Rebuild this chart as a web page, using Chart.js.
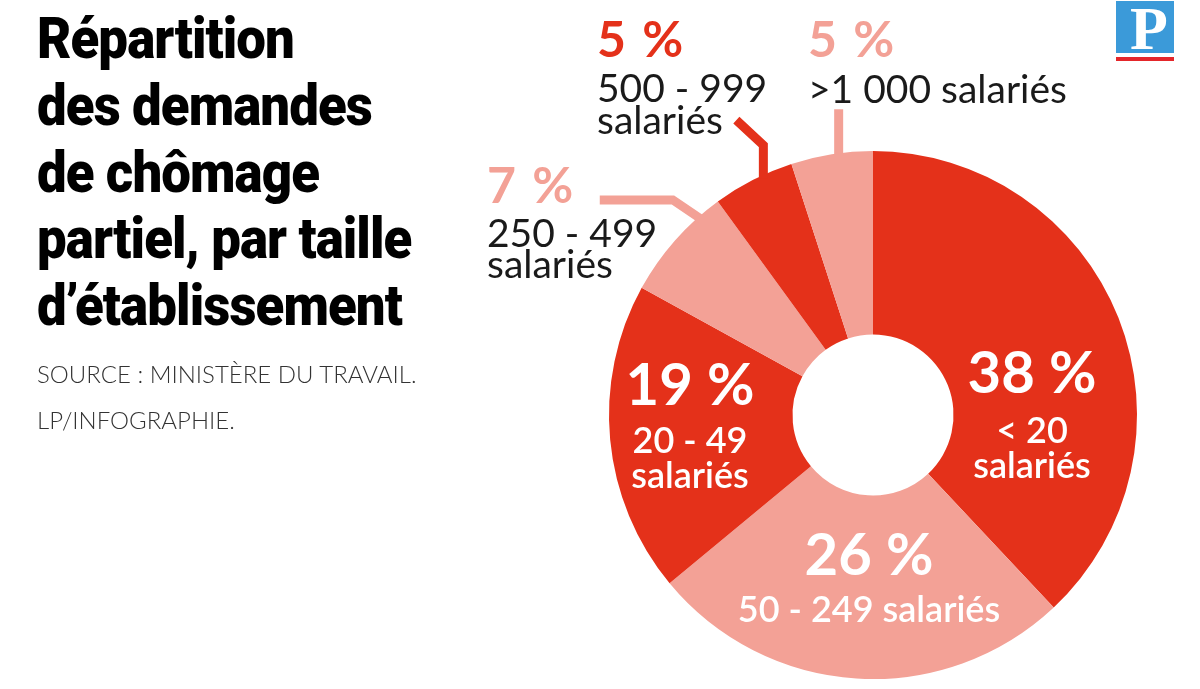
<!DOCTYPE html>
<html lang="fr">
<head>
<meta charset="utf-8">
<script src="https://cdn.jsdelivr.net/npm/chart.js@4"></script>
<style>
html, body { margin: 0; padding: 0; background: #fff; }
#wrap { position: relative; width: 1200px; height: 689px; overflow: hidden; }
#chart { position: absolute; left: 0; top: 0; }
#title {
  position: absolute; left: 37px; top: 5px;
  font-family: Roboto, sans-serif; font-weight: 900; font-size: 58px;
  line-height: 66.75px; color: #000; white-space: nowrap;
  transform: scaleX(0.91); transform-origin: 0 0; letter-spacing: -1px;
}
.src { position: absolute; left: 37px; font-family: Lato, sans-serif; font-weight: 300; font-size: 24px; color: #333; white-space: nowrap; }
#logo { position: absolute; left: 1116px; top: 1px; width: 58px; height: 52px; background: #3b9ad9; overflow: hidden; }
#logo span { position: absolute; left: 14px; top: -8px; font-family: "Liberation Serif", serif; font-weight: bold; font-size: 62px; color: #fff; }
#logobar { position: absolute; left: 1116px; top: 57px; width: 58px; height: 4px; background: #e4262a; }
</style>
</head>
<body>
<div id="wrap">
  <canvas id="chart" width="1200" height="689"></canvas>
  <div id="title">Répartition<br>des demandes<br>de chômage<br>partiel, par taille<br>d’établissement</div>
  <div class="src" style="top:359px">SOURCE : MINISTÈRE DU TRAVAIL.</div>
  <div class="src" style="top:405px">LP/INFOGRAPHIE.</div>
  <div id="logo"><span>P</span></div>
  <div id="logobar"></div>
</div>
<script>
// slices, clockwise from 12 o'clock
const categories = ['< 20 salariés', '50 - 249 salariés', '20 - 49 salariés', '250 - 499 salariés', '500 - 999 salariés', '>1 000 salariés'];
const shares = [38, 26, 19, 7, 5, 5];
const labelLines = [['< 20', 'salariés'], ['50 - 249 salariés'], ['20 - 49', 'salariés'], ['250 - 499', 'salariés'], ['500 - 999', 'salariés'], ['>1 000 salariés']];

const RED = '#e4311a';
const PINK = '#f3a196';
const sliceColors = [RED, PINK, RED, PINK, RED, PINK];

// where each label sits (baselines)
const labelPos = [
  { x: 1032, y: 393, align: 'center', inside: true, lines: [443, 478] },
  { x: 869, y: 575, align: 'center', inside: true, lines: [622] },
  { x: 690, y: 405, align: 'center', inside: true, lines: [453, 488] },
  { x: 487, y: 203, align: 'left', inside: false, lines: [247, 278] },
  { x: 597, y: 57, align: 'left', inside: false, lines: [102, 134] },
  { x: 808, y: 57, align: 'left', inside: false, lines: [103] }
];

// leader lines: end on the slice edge, other points relative to that end
const leaders = [
  { index: 3, at: 0.79, pts: [[-101, -19], [-28, -19]] },
  { index: 4, at: 0.62, pts: [[-27, -58], [0, -33]] },
  { index: 5, at: 0.58, pts: [[0, -47]] }
];

const labelPlugin = {
  id: 'sliceLabels',
  afterDatasetsDraw(chart) {
    const ctx = chart.ctx;
    const meta = chart.getDatasetMeta(0);
    ctx.save();
    leaders.forEach(l => {
      const arc = meta.data[l.index];
      const a = arc.startAngle + (arc.endAngle - arc.startAngle) * l.at;
      const r = arc.outerRadius - 3;
      const ex = arc.x + Math.cos(a) * r;
      const ey = arc.y + Math.sin(a) * r;
      ctx.strokeStyle = sliceColors[l.index];
      ctx.lineWidth = 9;
      ctx.lineJoin = 'miter';
      ctx.beginPath();
      l.pts.forEach((p, k) => {
        if (k === 0) ctx.moveTo(ex + p[0], ey + p[1]);
        else ctx.lineTo(ex + p[0], ey + p[1]);
      });
      ctx.lineTo(ex, ey);
      ctx.stroke();
    });

    shares.forEach((v, i) => {
      const p = labelPos[i];
      ctx.textAlign = p.align;
      ctx.textBaseline = 'alphabetic';
      if (p.inside) {
        ctx.fillStyle = '#fff';
        ctx.font = 'bold 58px Lato';
        ctx.letterSpacing = '0px';
      } else {
        ctx.fillStyle = sliceColors[i];
        ctx.font = 'bold 50px Lato';
        ctx.letterSpacing = '2px';
      }
      ctx.fillText(v + ' %', p.x, p.y);
      ctx.letterSpacing = '0px';
      ctx.fillStyle = p.inside ? '#fff' : '#1a1a1a';
      ctx.font = p.inside ? '600 36px Lato' : '400 39px Lato';
      labelLines[i].forEach((t, k) => ctx.fillText(t, p.x, p.lines[k]));
    });
    ctx.restore();
  }
};

new Chart(document.getElementById('chart'), {
  type: 'doughnut',
  data: {
    labels: categories,
    datasets: [{
      data: shares,
      backgroundColor: sliceColors,
      borderWidth: 0
    }]
  },
  options: {
    responsive: false,
    animation: false,
    cutout: '30.5%',
    layout: { padding: { left: 609, right: 63, top: 151, bottom: 10 } },
    plugins: {
      legend: { display: false },
      tooltip: { enabled: false }
    }
  },
  plugins: [labelPlugin]
});
</script>
</body>
</html>
